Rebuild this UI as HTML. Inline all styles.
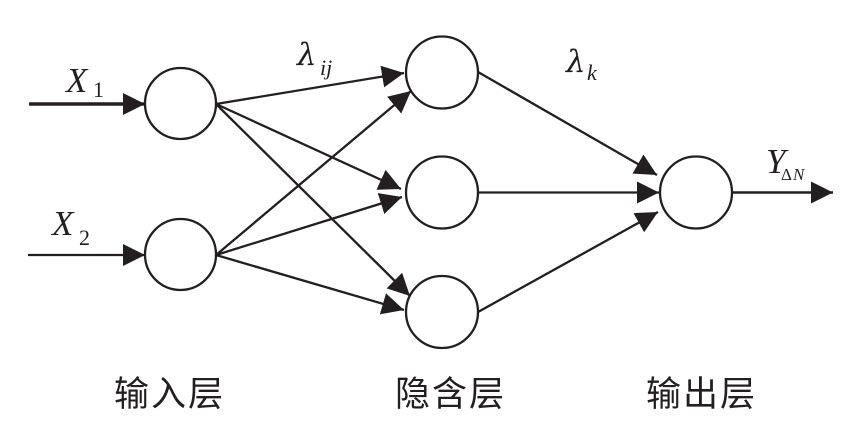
<!DOCTYPE html>
<html>
<head>
<meta charset="utf-8">
<style>
  html,body{margin:0;padding:0;background:#fff;}
  body{width:846px;height:441px;overflow:hidden;}
  svg{display:block;}
  .t{font-family:"Liberation Serif",serif;fill:#231f20;}
  .g{font-family:"DejaVu Serif","Liberation Serif",serif;fill:#231f20;}
  .cn{font-family:"Liberation Sans","Noto Sans CJK SC","WenQuanYi Zen Hei",sans-serif;fill:#231f20;font-size:35px;letter-spacing:2px;}
</style>
</head>
<body>
<svg width="846" height="441" viewBox="0 0 846 441" xmlns="http://www.w3.org/2000/svg">
  <defs>
    <marker id="ah" markerUnits="userSpaceOnUse" markerWidth="22" markerHeight="22" refX="20" refY="10" orient="auto" viewBox="0 0 20 20">
      <path d="M0,0 L20,10 L0,20 Z" fill="#231f20"/>
    </marker>
  </defs>
  <g stroke="#231f20" stroke-width="2.3" fill="none">
    <line x1="29" y1="104" x2="145" y2="104" stroke-width="3.6" marker-end="url(#ah)"/>
    <line x1="28" y1="255" x2="145" y2="255" marker-end="url(#ah)"/>
    <line x1="216" y1="104" x2="404" y2="73" marker-end="url(#ah)"/>
    <line x1="216" y1="104" x2="401" y2="189" marker-end="url(#ah)"/>
    <line x1="216" y1="104" x2="410" y2="296" marker-end="url(#ah)"/>
    <line x1="216" y1="255" x2="411" y2="91" marker-end="url(#ah)"/>
    <line x1="216" y1="255" x2="402" y2="197" marker-end="url(#ah)"/>
    <line x1="216" y1="255" x2="404" y2="310" marker-end="url(#ah)"/>
    <line x1="478" y1="72" x2="657" y2="175" marker-end="url(#ah)"/>
    <line x1="478" y1="192.5" x2="659" y2="192.5" marker-end="url(#ah)"/>
    <line x1="478" y1="312" x2="658" y2="212" marker-end="url(#ah)"/>
    <line x1="732" y1="192.5" x2="833" y2="192.5" stroke-width="2.6" marker-end="url(#ah)"/>
  </g>
  <g stroke="#231f20" stroke-width="2.3" fill="#fff">
    <circle cx="180.5" cy="103.5" r="35.5"/>
    <circle cx="180.5" cy="254.5" r="35.5"/>
    <circle cx="442" cy="72.5" r="36"/>
    <circle cx="442" cy="192.5" r="36"/>
    <circle cx="442" cy="312" r="36"/>
    <circle cx="696" cy="192.5" r="36"/>
  </g>
  <text class="t" x="66" y="92" font-size="35" font-style="italic">X</text>
  <text class="t" x="93" y="97" font-size="22">1</text>
  <text class="t" x="52" y="235" font-size="35" font-style="italic">X</text>
  <text class="t" x="79" y="245" font-size="22">2</text>

  <text class="g" x="297" y="65" font-size="31" font-style="italic">λ</text>
  <text class="t" x="320" y="75" font-size="22" font-style="italic">ij</text>

  <text class="g" x="566" y="72" font-size="31" font-style="italic">λ</text>
  <text class="t" x="587" y="80" font-size="22" font-style="italic">k</text>

  <text class="t" x="766" y="173" font-size="35" font-style="italic">Y</text>
  <text class="t" x="781" y="180" font-size="17">Δ</text>
  <text class="t" x="793" y="180" font-size="17" font-style="italic">N</text>

  <text class="cn" x="114" y="406">输入层</text>
  <text class="cn" x="395" y="406">隐含层</text>
  <text class="cn" x="646" y="406">输出层</text>
</svg>
</body>
</html>
